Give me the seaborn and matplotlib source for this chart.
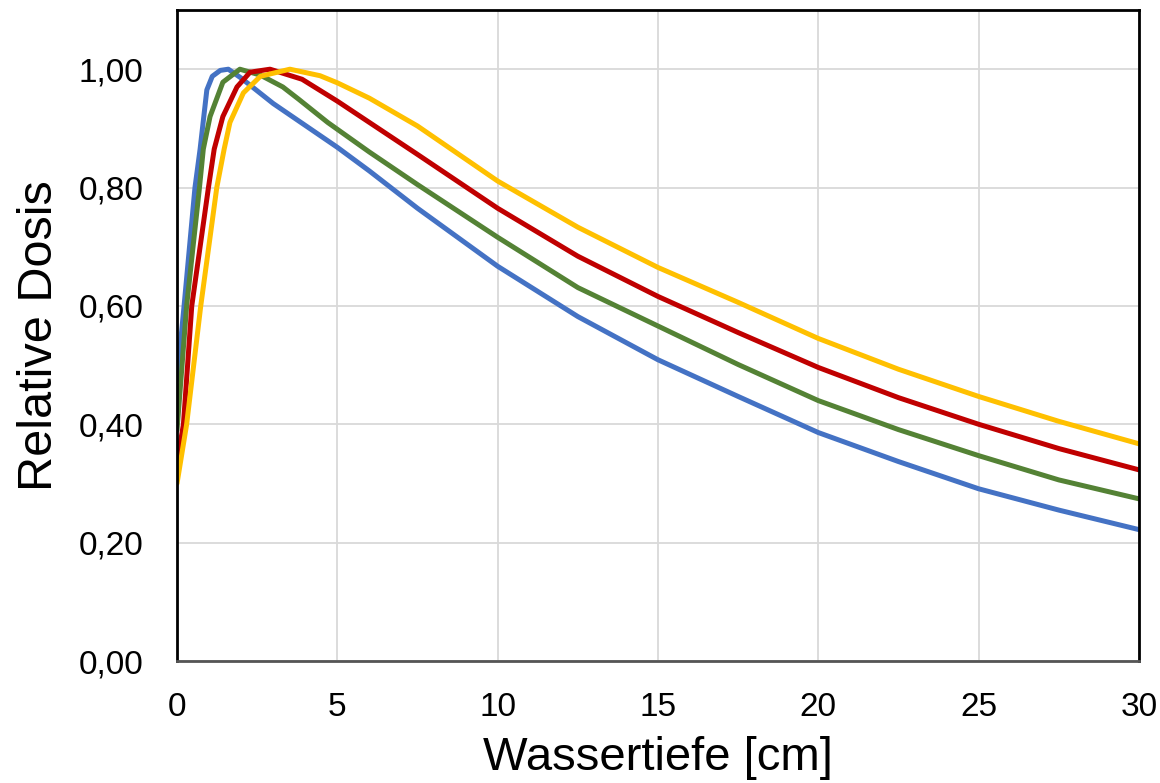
import matplotlib
matplotlib.use("Agg")
import matplotlib.pyplot as plt
from matplotlib.ticker import FuncFormatter, MultipleLocator
import seaborn as sns
import pandas as pd

# Depth-dose curves (relative dose vs. water depth in cm)
depth_blue = [0, 0.22, 0.56, 0.72, 0.93, 1.1, 1.35, 1.6, 2.0, 3.0, 5.0, 6.0, 7.5,
              10, 12.5, 15, 17.5, 20, 22.5, 25, 27.5, 30]
dose_blue = [0.475, 0.60, 0.80, 0.865, 0.965, 0.988, 0.998, 1.0, 0.985, 0.942, 0.868, 0.828, 0.765,
             0.667, 0.582, 0.509, 0.447, 0.386, 0.337, 0.291, 0.255, 0.222]

depth_green = [0, 0.30, 0.70, 0.82, 1.03, 1.43, 1.96, 2.6, 3.3, 3.8, 4.7, 6.0, 7.5,
               10, 12.5, 15, 17.5, 20, 22.5, 25, 27.5, 30]
dose_green = [0.39, 0.60, 0.80, 0.865, 0.92, 0.978, 1.0, 0.99, 0.97, 0.949, 0.91, 0.86, 0.805,
              0.716, 0.631, 0.566, 0.501, 0.440, 0.391, 0.347, 0.306, 0.274]

depth_red = [0, 0.2, 0.46, 0.98, 1.16, 1.43, 1.87, 2.28, 2.9, 3.9, 5.0, 6.0, 7.5,
             10, 12.5, 15, 17.5, 20, 22.5, 25, 27.5, 30]
dose_red = [0.335, 0.40, 0.60, 0.80, 0.865, 0.92, 0.97, 0.995, 1.0, 0.983, 0.946, 0.91, 0.856,
            0.765, 0.684, 0.616, 0.555, 0.496, 0.445, 0.400, 0.359, 0.323]

depth_yellow = [0, 0.3, 0.74, 1.24, 1.47, 1.65, 2.07, 2.6, 3.52, 4.46, 5.0, 6.0, 7.5,
                10, 12.5, 15, 17.5, 20, 22.5, 25, 27.5, 30]
dose_yellow = [0.30, 0.40, 0.60, 0.80, 0.865, 0.91, 0.96, 0.988, 1.0, 0.989, 0.977, 0.951, 0.904,
               0.811, 0.733, 0.665, 0.606, 0.545, 0.493, 0.447, 0.405, 0.367]

series = ["blau", "grün", "rot", "gelb"]
colors = ["#4472C4", "#548235", "#C00000", "#FFC000"]

frames = []
for name, xs, ys in zip(series,
                        [depth_blue, depth_green, depth_red, depth_yellow],
                        [dose_blue, dose_green, dose_red, dose_yellow]):
    frames.append(pd.DataFrame({"Tiefe": xs, "Dosis": ys, "Kurve": name}))
df = pd.concat(frames, ignore_index=True)

sns.set_theme(style="white")
plt.rcParams["font.family"] = ["Liberation Sans", "DejaVu Sans"]
plt.rcParams["text.color"] = "black"
plt.rcParams["axes.labelcolor"] = "black"

fig = plt.figure(figsize=(11.6, 7.83), dpi=100)
ax = fig.add_axes([0.1526, 0.1558, 0.8293, 0.8314])

sns.lineplot(data=df, x="Tiefe", y="Dosis", hue="Kurve", hue_order=series,
             palette=colors, linewidth=3.6, sort=False, legend=False, ax=ax)

ax.set_xlim(0, 30)
ax.set_ylim(0, 1.1)
ax.xaxis.set_major_locator(MultipleLocator(5))
ax.yaxis.set_major_locator(MultipleLocator(0.2))
ax.yaxis.set_major_formatter(FuncFormatter(lambda v, p: f"{v:.2f}".replace(".", ",")))

ax.grid(True, color="#D9D9D9", linewidth=1.3)
ax.set_axisbelow(True)
for side in ["left", "right", "top", "bottom"]:
    ax.spines[side].set_visible(True)
    ax.spines[side].set_color("black")
    ax.spines[side].set_linewidth(2.0)
ax.spines["bottom"].set_color("#555555")

ax.tick_params(axis="both", length=0, labelsize=24, colors="black")
ax.tick_params(axis="y", pad=24)
ax.tick_params(axis="x", pad=22)

ax.set_xlabel("Wassertiefe [cm]", fontsize=34, labelpad=10, color="black")
ax.set_ylabel("Relative Dosis", fontsize=35, labelpad=12, color="black")

fig.savefig("out.png", dpi=100)
